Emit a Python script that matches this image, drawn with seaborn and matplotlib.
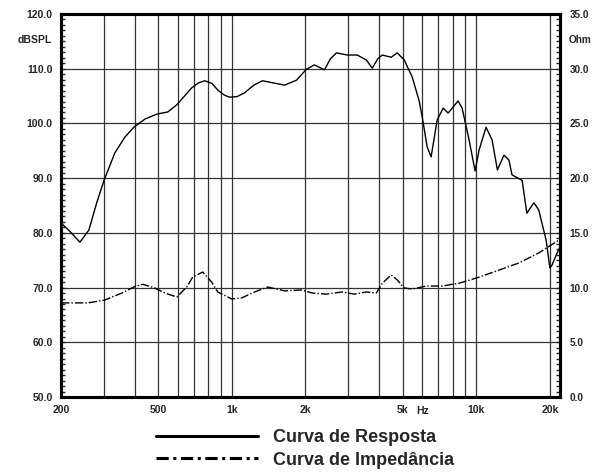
import numpy as np
import pandas as pd
import matplotlib
matplotlib.use("Agg")
import matplotlib.pyplot as plt
import seaborn as sns
from matplotlib.lines import Line2D
from matplotlib.ticker import FixedLocator, FixedFormatter, MultipleLocator, FormatStrFormatter, NullFormatter

# frequency response (Hz, dBSPL)
resp_freq = [200, 215, 239, 260, 280, 300, 332, 365, 397, 441, 493, 547, 595, 640, 685,
             730, 774, 830, 875, 930, 978, 1050, 1127, 1230, 1335, 1480, 1642, 1838, 2019,
             2176, 2392, 2530, 2677, 2968, 3260, 3548, 3754, 3950, 4124, 4488, 4748, 5072,
             5467, 5840, 6008, 6296, 6535, 6915, 7318, 7670, 8424, 8750, 9342, 9886, 10260,
             10960, 11600, 12200, 12980, 13600, 14000, 15400, 16100, 17200, 18000, 19300,
             20000, 20400, 21400, 22000]
resp_db = [81.8, 80.5, 78.3, 80.5, 85.5, 89.6, 94.6, 97.5, 99.3, 100.8, 101.7, 102.1, 103.4,
           105.0, 106.5, 107.4, 107.8, 107.3, 106.1, 105.2, 104.8, 104.9, 105.6, 107.0, 107.8,
           107.4, 107.0, 107.9, 109.9, 110.7, 109.8, 111.8, 112.9, 112.5, 112.5, 111.6, 110.1,
           111.8, 112.5, 112.1, 112.9, 111.6, 108.5, 104.1, 101.2, 95.7, 93.9, 100.6, 102.8,
           101.9, 104.1, 102.8, 97.0, 91.3, 95.1, 99.3, 97.0, 91.5, 94.2, 93.3, 90.6, 89.6,
           83.6, 85.5, 84.2, 78.7, 73.6, 74.1, 76.3, 77.4]

# impedance (Hz, Ohm)
imp_freq = [200, 258, 302, 355, 401, 432, 484, 532, 595, 654, 692, 760, 827, 875, 998,
            1096, 1239, 1400, 1642, 1926, 2136, 2436, 2831, 3170, 3548, 3900, 4124, 4488,
            4748, 5072, 5467, 6238, 7248, 8503, 10100, 12040, 14950, 18000, 22000]
imp_ohm = [8.6, 8.6, 8.86, 9.5, 10.1, 10.3, 9.96, 9.5, 9.14, 10.05, 10.97, 11.42, 10.5, 9.6,
           8.96, 9.05, 9.6, 10.05, 9.7, 9.78, 9.5, 9.4, 9.6, 9.4, 9.6, 9.5, 10.4, 11.15,
           10.7, 9.96, 9.87, 10.14, 10.14, 10.4, 10.9, 11.5, 12.25, 13.16, 14.4]

x_major = [200, 500, 1000, 2000, 5000, 10000, 20000]
x_labels = ["200", "500", "1k", "2k", "5k", "10k", "20k"]
x_grid = [300, 400, 600, 700, 800, 900, 3000, 4000, 6000, 7000, 8000, 9000]

sns.set_style("white")
plt.rcParams['font.family'] = ['Liberation Sans', 'DejaVu Sans']
plt.rcParams['font.weight'] = 'bold'

fig = plt.figure(figsize=(5.93, 4.72), dpi=100)
ax = fig.add_axes([61 / 593, 75 / 472, 499 / 593, 383 / 472])
ax2 = ax.twinx()

resp = pd.DataFrame({"f": resp_freq, "db": resp_db})
imp = pd.DataFrame({"f": imp_freq, "ohm": imp_ohm})

sns.lineplot(data=resp, x="f", y="db", ax=ax, color="black", lw=1.0, sort=False, zorder=3)
sns.lineplot(data=imp, x="f", y="ohm", ax=ax2, color="black", lw=1.0, sort=False,
             linestyle=(0, (6, 1.5, 1, 1.5)))

ax.set_xscale("log")
ax.set_xlim(200, 22000)
ax.set_ylim(50, 120)
ax2.set_ylim(0, 35)

ax.xaxis.set_major_locator(FixedLocator(x_major))
ax.xaxis.set_major_formatter(FixedFormatter(x_labels))
ax.xaxis.set_minor_locator(FixedLocator(x_grid))
ax.xaxis.set_minor_formatter(NullFormatter())
ax.tick_params(axis="x", which="both", length=0, pad=6, labelsize=7.5)

ax.yaxis.set_major_locator(MultipleLocator(10))
ax.yaxis.set_major_formatter(FormatStrFormatter("%.1f"))
ax.yaxis.set_minor_locator(MultipleLocator(1))
ax.tick_params(axis="y", which="major", direction="in", length=3, width=1, pad=6, labelsize=7.5)
ax.tick_params(axis="y", which="minor", direction="in", length=3, width=1)

ax2.yaxis.set_major_locator(MultipleLocator(5))
ax2.yaxis.set_major_formatter(FormatStrFormatter("%.1f"))
ax2.yaxis.set_minor_locator(MultipleLocator(0.5))
ax2.tick_params(axis="y", which="major", direction="in", length=3, width=1, pad=7, labelsize=7.2)
ax2.tick_params(axis="y", which="minor", direction="in", length=3, width=1)

ax.grid(True, axis="x", which="both", color="#333333", lw=0.9)
ax.grid(True, axis="y", which="major", color="#333333", lw=0.9)
ax.set_axisbelow(True)
ax.set_xlabel("")
ax.set_ylabel("")
ax2.set_ylabel("")

for a in (ax, ax2):
    for s in a.spines.values():
        s.set_linewidth(2.2)
        s.set_color("black")

fig.text(35 / 593, 1 - 40 / 472, "dBSPL", ha="center", va="center", fontsize=7.5, fontweight="bold")
fig.text(569 / 593, 1 - 40 / 472, "Ohm", ha="left", va="center", fontsize=7.2, fontweight="bold")
fig.text(423 / 593, 1 - 411 / 472, "Hz", ha="center", va="center", fontsize=7.5, fontweight="bold")

handles = [Line2D([], [], color="black", lw=2.2),
           Line2D([], [], color="black", lw=2.2, linestyle=(0, (4, 1.5, 1, 1.5)))]
fig.legend(handles, ["Curva de Resposta", "Curva de Impedância"], loc="upper left",
           bbox_to_anchor=(156 / 593, 1 - 429 / 472), frameon=False, borderpad=0,
           borderaxespad=0, handlelength=5.65, handletextpad=0.85, labelspacing=0.32,
           prop={"size": 13, "weight": "bold"})

fig.savefig("out.png", dpi=100)
